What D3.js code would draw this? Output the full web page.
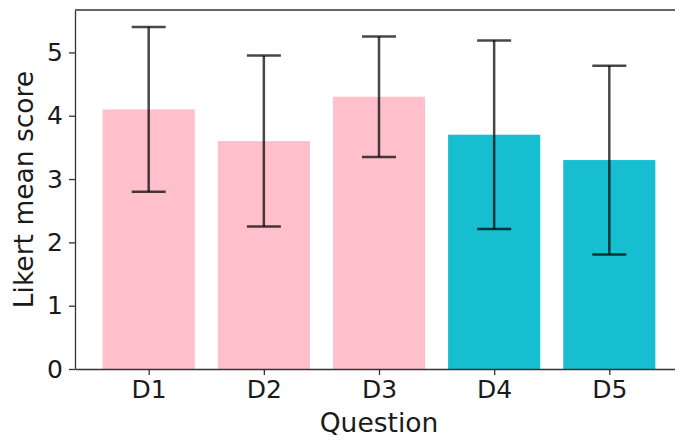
<!DOCTYPE html>
<html>
<head>
<meta charset="utf-8">
<script src="https://cdn.jsdelivr.net/npm/d3@7"></script>
<style>
  body { margin: 0; background: #fff; }
  svg { display: block; font-family: "DejaVu Sans", sans-serif; }
</style>
</head>
<body>
<div id="chart"></div>
<script>
// values
const questions = ["D1", "D2", "D3", "D4", "D5"];
const means = [4.1, 3.6, 4.3, 3.7, 3.3];
const sds = [1.3, 1.35, 0.95, 1.49, 1.49];
const colors = ["pink", "pink", "pink", "#17becf", "#17becf"];
const yTicks = [0, 1, 2, 3, 4, 5];

const width = 675,
    height = 440,
    margin = ({ top: 10, right: -8, bottom: 71, left: 75 });

const tickFont = 25,
    labelFont = 26.5;

let svg = d3.select("#chart")
    .append("svg")
    .attr("width", width)
    .attr("height", height);

// linear scale so the padding matches matplotlib's default xlim
let x = d3.scaleLinear()
    .domain([-0.64, 4.64])
    .range([margin.left, width - margin.right]);

let y = d3.scaleLinear()
    .domain([0, 5.67])
    .range([height - margin.bottom, margin.top]);

const barW = x(0.8) - x(0);
const data = questions.map((q, i) => ({ q: q, i: i, mean: means[i], sd: sds[i], color: colors[i] }));

// bars
svg.selectAll(".bar")
    .data(data)
    .join("rect")
    .attr("class", "bar")
    .attr("x", d => x(d.i) - barW / 2)
    .attr("width", barW)
    .attr("y", d => y(d.mean))
    .attr("height", d => y(0) - y(d.mean))
    .attr("fill", d => d.color);

// error bars
let err = svg.selectAll(".err")
    .data(data)
    .join("g")
    .attr("class", "err")
    .attr("stroke", "black")
    .attr("stroke-opacity", 0.72)
    .attr("stroke-width", 2.5);

err.append("line")
    .attr("x1", d => x(d.i)).attr("x2", d => x(d.i))
    .attr("y1", d => y(d.mean + d.sd)).attr("y2", d => y(d.mean - d.sd));

err.append("line") // top cap
    .attr("x1", d => x(d.i) - 17).attr("x2", d => x(d.i) + 17)
    .attr("y1", d => y(d.mean + d.sd)).attr("y2", d => y(d.mean + d.sd));

err.append("line") // bottom cap
    .attr("x1", d => x(d.i) - 17).attr("x2", d => x(d.i) + 17)
    .attr("y1", d => y(d.mean - d.sd)).attr("y2", d => y(d.mean - d.sd));

// axes
let xAxis = svg.append("g")
    .attr("transform", `translate(0,${y(0)})`)
    .call(d3.axisBottom(x).tickValues(questions.map((q, i) => i)).tickFormat(i => questions[i]).tickSize(6).tickSizeOuter(0).tickPadding(5));

let yAxis = svg.append("g")
    .attr("transform", `translate(${margin.left},0)`)
    .call(d3.axisLeft(y).tickValues(yTicks).tickFormat(d3.format("d")).tickSize(6).tickSizeOuter(0).tickPadding(6));

for (let ax of [xAxis, yAxis]) {
    ax.attr("font-size", tickFont).attr("font-family", "DejaVu Sans, sans-serif");
    ax.select(".domain").attr("stroke", "#333").attr("stroke-width", 1.3);
    ax.selectAll(".tick line").attr("stroke", "#333").attr("stroke-width", 1.3);
    ax.selectAll(".tick text").attr("fill", "#1a1a1a");
}

// top spine (right one falls outside the cropped picture)
svg.append("line")
    .attr("x1", margin.left).attr("x2", width)
    .attr("y1", y(5.67)).attr("y2", y(5.67))
    .attr("stroke", "#333")
    .attr("stroke-width", 1.3);

svg.append("text")
    .attr("class", "x-label")
    .attr("text-anchor", "middle")
    .attr("x", x(2))
    .attr("y", 432)
    .attr("font-size", labelFont)
    .attr("fill", "#1a1a1a")
    .text("Question");

svg.append("text")
    .attr("class", "y-label")
    .attr("text-anchor", "middle")
    .attr("transform", `translate(32.5,${(y(0) + y(5.67)) / 2}) rotate(-90)`)
    .attr("font-size", labelFont)
    .attr("fill", "#1a1a1a")
    .text("Likert mean score");
</script>
</body>
</html>
